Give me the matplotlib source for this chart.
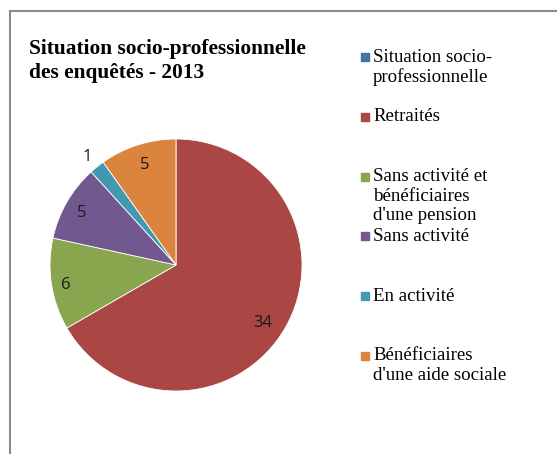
import matplotlib
matplotlib.use("Agg")
import matplotlib.pyplot as plt
from matplotlib.patches import Rectangle
from matplotlib.lines import Line2D
import numpy as np

categories = ["Situation socio-\nprofessionnelle", "Retraités",
              "Sans activité et\nbénéficiaires\nd'une pension", "Sans activité",
              "En activité", "Bénéficiaires\nd'une aide sociale"]
values = [0, 34, 6, 5, 1, 5]
colors = ["#4572A7", "#AA4643", "#89A54E", "#71588F", "#4198AF", "#DB843D"]
title = "Situation socio-professionnelle\ndes enquêtés - 2013"

W, H = 557, 454
fig = plt.figure(figsize=(W / 100, H / 100), dpi=100)

# frame
fig.add_artist(Line2D([9.5 / W, 9.5 / W], [0, 1 - 10.5 / H], transform=fig.transFigure,
                      color="#8a8a8a", lw=1.5))
fig.add_artist(Line2D([9.5 / W, 1], [1 - 10.5 / H, 1 - 10.5 / H], transform=fig.transFigure,
                      color="#8a8a8a", lw=1.5))

# pie axes: center (176,265), r=126
cx, cy, r = 176, 265, 126
ax = fig.add_axes([(cx - r) / W, 1 - (cy + r) / H, 2 * r / W, 2 * r / H])
wedges, _ = ax.pie(values, colors=colors, startangle=90, counterclock=False,
                   radius=1.0, wedgeprops=dict(linewidth=0.6, edgecolor="white"))
ax.set_xlim(-1, 1)
ax.set_ylim(-1, 1)
ax.set_aspect("equal")
ax.axis("off")

label_dist = [0.8, 0.81, 0.89, 0.87, 1.13, 0.85]
label_rot = [0, -3.0, 0, 0, 0, 0]
for w, v, d, dr in zip(wedges, values, label_dist, label_rot):
    if v == 0:
        continue
    ang = np.deg2rad((w.theta1 + w.theta2) / 2 + dr)
    ax.annotate(str(v), (d * np.cos(ang), d * np.sin(ang)), xytext=(0.6, -1.8),
                textcoords="offset points", ha="center", va="center",
                fontsize=12, family="Open Sans", color="#1a1a1a", annotation_clip=False)

fig.text(29 / W, 1 - 39 / H, title, ha="left", va="top", fontsize=15.4,
         fontweight="bold", family="Liberation Serif", linespacing=1.28)

# legend
y0 = 57
step = 59.8
for i, (cat, col) in enumerate(zip(categories, colors)):
    yc = y0 + i * step
    fig.add_artist(Rectangle((361 / W, 1 - (yc + 4) / H), 8 / W, 8 / H,
                             transform=fig.transFigure, color=col))
    fig.text(373 / W, 1 - (yc - 8.5) / H, cat, ha="left", va="top", fontsize=13.6,
             family="Liberation Serif", linespacing=1.2)

fig.savefig("out.png", dpi=100, facecolor="white")
